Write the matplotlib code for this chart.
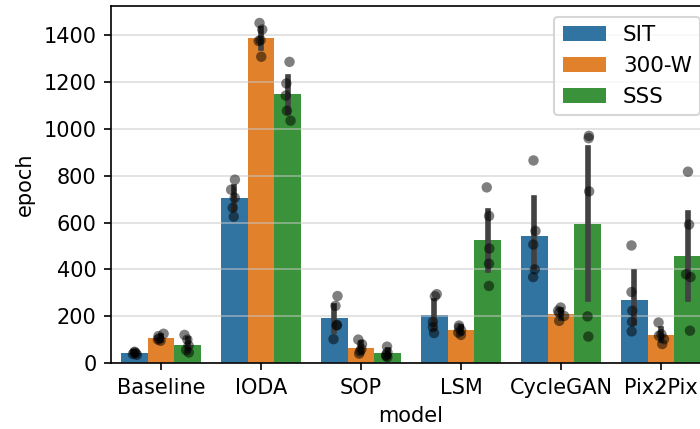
import numpy as np
import pandas as pd
import matplotlib
matplotlib.use("Agg")
import matplotlib.pyplot as plt
import seaborn as sns

# -- epochs per run, 5 runs for each model / dataset pair
models = ["Baseline", "IODA", "SOP", "LSM", "CycleGAN", "Pix2Pix"]
datasets = ["SIT", "300-W", "SSS"]

sit_epochs = [
    [48, 42, 38, 45, 35],          # Baseline
    [783, 740, 706, 663, 625],     # IODA
    [286, 244, 163, 160, 102],     # SOP
    [294, 285, 176, 153, 128],     # LSM
    [865, 564, 506, 400, 367],     # CycleGAN
    [502, 303, 223, 176, 135],     # Pix2Pix
]
w300_epochs = [
    [125, 115, 105, 100, 95],
    [1452, 1424, 1379, 1375, 1308],
    [100, 80, 60, 50, 40],
    [160, 150, 140, 130, 120],
    [237, 223, 215, 201, 180],
    [173, 123, 116, 102, 81],
]
sss_epochs = [
    [120, 100, 75, 55, 45],
    [1286, 1194, 1142, 1077, 1035],
    [70, 45, 35, 30, 25],
    [750, 628, 489, 424, 329],
    [970, 960, 733, 199, 113],
    [817, 591, 379, 367, 138],
]

# -- long form table for seaborn
rows = []
for ds, per_model in zip(datasets, [sit_epochs, w300_epochs, sss_epochs]):
    for model, values in zip(models, per_model):
        for v in values:
            rows.append({"model": model, "dataset": ds, "epoch": v})
df = pd.DataFrame(rows)

DPI = 150
fig = plt.figure(figsize=(701 / DPI, 429 / DPI), dpi=DPI)
# axes run slightly past the right edge, like the cropped original
ax = fig.add_axes([0.1583, 0.1538, 0.856, 0.8322])

sns.barplot(data=df, x="model", y="epoch", hue="dataset", order=models,
            hue_order=datasets, errorbar=("ci", 95), seed=0,
            err_kws={"linewidth": 2.7}, ax=ax)
np.random.seed(3)
sns.stripplot(data=df, x="model", y="epoch", hue="dataset", order=models,
              hue_order=datasets, dodge=True, palette=["black"] * 3,
              alpha=0.5, size=5, legend=False, ax=ax)

ax.grid(axis="y", color="#c8c8c8", alpha=0.6)
ax.legend(loc="upper right", fontsize=10.3)
ax.set_xlabel("model")
ax.set_ylabel("epoch")

fig.savefig("out.png", dpi=DPI)
